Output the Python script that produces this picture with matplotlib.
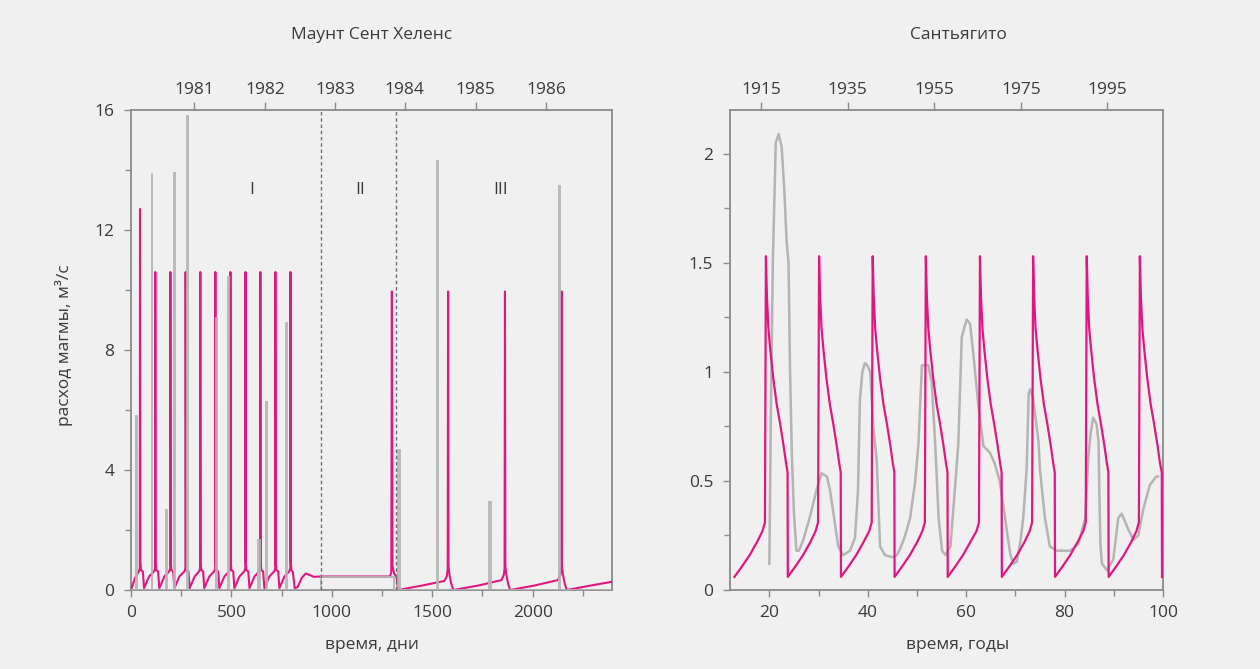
import matplotlib
matplotlib.use("Agg")
import matplotlib.pyplot as plt
from matplotlib.ticker import MultipleLocator

plt.rcParams["font.family"] = ["Open Sans", "DejaVu Sans"]

# ---------------- Mount St. Helens (days since start) ----------------
msh_model_t = [
    0, 20,
    39, 44, 45, 47, 50, 59, 65, 90,
    115, 120, 121, 123, 126, 135, 141, 166,
    190, 195, 196, 198, 201, 210, 216, 241,
    266, 271, 272, 274, 277, 286, 292, 317,
    339, 344, 345, 347, 350, 359, 365, 390,
    414, 419, 420, 422, 425, 434, 440, 465,
    489, 494, 495, 497, 500, 509, 515, 540,
    564, 569, 570, 572, 575, 584, 590, 615,
    638, 643, 644, 646, 649, 658, 664, 689,
    713, 718, 719, 721, 724, 733, 739, 764,
    788, 793, 794, 796, 799, 806, 815, 830, 850, 870, 890, 910, 945,
    1290, 1296, 1299, 1302, 1310, 1322, 1330,
    1450, 1560, 1572, 1577, 1579, 1581, 1586, 1595, 1605,
    1730, 1845, 1856, 1860, 1862, 1864, 1869, 1878, 1888,
    2010, 2125, 2138, 2142, 2144, 2146, 2151, 2160, 2170,
    2290, 2400,
]
msh_model_v = [
    0.0, 0.4,
    0.62, 0.72, 12.7, 0.9, 0.66, 0.62, 0.06, 0.45,
    0.62, 0.72, 10.6, 0.9, 0.66, 0.62, 0.06, 0.45,
    0.62, 0.72, 10.6, 0.9, 0.66, 0.62, 0.06, 0.45,
    0.62, 0.72, 10.6, 0.9, 0.66, 0.62, 0.06, 0.45,
    0.62, 0.72, 10.6, 0.9, 0.66, 0.62, 0.06, 0.45,
    0.62, 0.72, 10.6, 0.9, 0.66, 0.62, 0.06, 0.45,
    0.62, 0.72, 10.6, 0.9, 0.66, 0.62, 0.06, 0.45,
    0.62, 0.72, 10.6, 0.9, 0.66, 0.62, 0.06, 0.45,
    0.62, 0.72, 10.6, 0.9, 0.66, 0.62, 0.06, 0.45,
    0.62, 0.72, 10.6, 0.9, 0.66, 0.62, 0.06, 0.45,
    0.62, 0.72, 10.6, 0.9, 0.66, 0.6, 0.06, 0.1, 0.4, 0.55, 0.5, 0.44, 0.45,
    0.45, 0.6, 9.95, 0.8, 0.55, 0.45, 0.0,
    0.15, 0.3, 0.45, 0.7, 9.95, 0.8, 0.5, 0.2, 0.0,
    0.15, 0.33, 0.5, 0.7, 9.95, 0.8, 0.5, 0.2, 0.0,
    0.15, 0.33, 0.5, 0.7, 9.95, 0.8, 0.5, 0.2, 0.0,
    0.15, 0.28,
]

# observed extrusion episodes: start day, end day, rate
msh_obs_start = [26, 105, 175.5, 215, 281, 424.5, 484, 632, 674, 774,
                 945, 1331, 1525, 1784, 2133]
msh_obs_end = [30, 107, 180.5, 217, 283, 429.5, 486, 644, 678, 778,
               1312, 1339, 1527, 1794, 2135]
msh_obs_rate = [5.8, 13.9, 2.67, 13.9, 15.8, 9.07, 10.44, 1.67, 6.28, 8.9,
                0.44, 4.67, 14.3, 2.94, 13.47]

msh_year_pos = [315, 668, 1017, 1363, 1716, 2068]
msh_year_labels = ["1981", "1982", "1983", "1984", "1985", "1986"]
msh_phase_bounds = [945, 1320]
msh_phase_labels = ["I", "II", "III"]
msh_phase_pos = [603, 1141, 1839]

# ---------------- Santiaguito (years) ----------------
sg_model_t = [
    12.9, 14.5, 16.0, 17.5, 18.6, 19.1, 19.3, 19.5, 19.8, 20.2, 20.8, 21.5, 22.2, 22.9, 23.4, 23.7,
    23.75, 25.35, 26.85, 28.35, 29.4, 29.9, 30.1, 30.3, 30.6, 31.0, 31.6, 32.3, 33.0, 33.7, 34.2, 34.5,
    34.55, 36.15, 37.65, 39.15, 40.3, 40.8, 41.0, 41.2, 41.5, 41.9, 42.5, 43.2, 43.9, 44.6, 45.1, 45.4,
    45.45, 47.05, 48.55, 50.05, 51.1, 51.6, 51.8, 52.0, 52.3, 52.7, 53.3, 54.0, 54.7, 55.4, 55.9, 56.2,
    56.25, 57.85, 59.35, 60.85, 62.1, 62.6, 62.8, 63.0, 63.3, 63.7, 64.3, 65.0, 65.7, 66.4, 66.9, 67.2,
    67.25, 68.85, 70.35, 71.85, 72.9, 73.4, 73.6, 73.8, 74.1, 74.5, 75.1, 75.8, 76.5, 77.2, 77.7, 78.0,
    78.05, 79.65, 81.15, 82.65, 83.8, 84.3, 84.5, 84.7, 85.0, 85.4, 86.0, 86.7, 87.4, 88.1, 88.6, 88.9,
    88.95, 90.55, 92.05, 93.55, 94.6, 95.1, 95.3, 95.5, 95.8, 96.2, 96.8, 97.5, 98.2, 98.9, 99.4, 99.75,
    99.8,
]
sg_model_v = [
    0.06, 0.11, 0.16, 0.22, 0.27, 0.31, 1.53, 1.35, 1.2, 1.1, 0.97, 0.85, 0.76, 0.66, 0.58, 0.54,
    0.06, 0.11, 0.16, 0.22, 0.27, 0.31, 1.53, 1.35, 1.2, 1.1, 0.97, 0.85, 0.76, 0.66, 0.58, 0.54,
    0.06, 0.11, 0.16, 0.22, 0.27, 0.31, 1.53, 1.35, 1.2, 1.1, 0.97, 0.85, 0.76, 0.66, 0.58, 0.54,
    0.06, 0.11, 0.16, 0.22, 0.27, 0.31, 1.53, 1.35, 1.2, 1.1, 0.97, 0.85, 0.76, 0.66, 0.58, 0.54,
    0.06, 0.11, 0.16, 0.22, 0.27, 0.31, 1.53, 1.35, 1.2, 1.1, 0.97, 0.85, 0.76, 0.66, 0.58, 0.54,
    0.06, 0.11, 0.16, 0.22, 0.27, 0.31, 1.53, 1.35, 1.2, 1.1, 0.97, 0.85, 0.76, 0.66, 0.58, 0.54,
    0.06, 0.11, 0.16, 0.22, 0.27, 0.31, 1.53, 1.35, 1.2, 1.1, 0.97, 0.85, 0.76, 0.66, 0.58, 0.54,
    0.06, 0.11, 0.16, 0.22, 0.27, 0.31, 1.53, 1.35, 1.2, 1.1, 0.97, 0.85, 0.76, 0.66, 0.58, 0.54,
    0.06,
]

sg_obs_t = [20.0, 20.3, 20.7, 21.3, 21.9, 22.5, 23.0, 23.5, 23.9, 24.2, 24.6, 25.0, 25.5, 26.0,
            26.9, 28.3, 29.6, 30.6, 31.7, 32.3, 33.1, 34.0, 35.0, 36.4, 37.4, 38.0, 38.4, 38.9,
            39.4, 39.9, 40.5, 41.1, 41.8, 42.5, 43.5, 45.0, 45.9, 46.6, 47.6, 48.6, 49.6, 50.3,
            51.0, 52.3, 53.0, 53.7, 54.4, 55.1, 55.8, 56.8, 57.8, 58.4, 59.1, 60.1, 60.8, 61.5,
            62.5, 63.5, 64.8, 65.8, 66.8, 67.6, 68.4, 69.0, 69.6, 70.3, 71.0, 71.6, 72.3, 72.7,
            73.0, 73.6, 74.7, 75.0, 76.0, 77.0, 78.4, 81.1, 82.8, 84.2, 84.8, 85.3, 85.8, 86.5,
            86.9, 87.1, 87.3, 87.6, 88.6, 89.9, 90.9, 91.6, 92.9, 94.0, 95.0, 96.0, 97.3, 98.6,
            99.0]
sg_obs_v = [0.12, 0.8, 1.5, 2.05, 2.09, 2.03, 1.85, 1.6, 1.5, 1.0, 0.6, 0.35, 0.18, 0.18,
            0.23, 0.34, 0.46, 0.535, 0.52, 0.46, 0.34, 0.2, 0.16, 0.18, 0.24, 0.45, 0.87, 1.0,
            1.04, 1.03, 1.0, 0.75, 0.6, 0.2, 0.16, 0.15, 0.16, 0.19, 0.25, 0.33, 0.49, 0.67,
            1.03, 1.03, 0.95, 0.67, 0.33, 0.18, 0.16, 0.2, 0.49, 0.67, 1.16, 1.24, 1.22, 1.07,
            0.84, 0.66, 0.63, 0.58, 0.5, 0.38, 0.25, 0.16, 0.12, 0.13, 0.22, 0.33, 0.56, 0.9,
            0.92, 0.88, 0.68, 0.55, 0.33, 0.2, 0.18, 0.18, 0.21, 0.33, 0.6, 0.72, 0.79, 0.76,
            0.68, 0.4, 0.2, 0.12, 0.09, 0.14, 0.33, 0.35, 0.28, 0.23, 0.25, 0.37, 0.48, 0.52,
            0.52]

sg_year_pos = [18.3, 35.9, 53.5, 71.1, 88.7]
sg_year_labels = ["1915", "1935", "1955", "1975", "1995"]

# ---------------- styling ----------------
BG = "#f0f0f0"
SPINE = "#8a8a8a"
TEXT = "#3a3a3a"
PINK = "#e0177f"
GREY = "#b4b4b4"
FS = 12.5

fig = plt.figure(figsize=(12.6, 6.69), dpi=100, facecolor=BG)
axL = fig.add_axes([131 / 1260, 79 / 669, 481 / 1260, 480 / 669])
axR = fig.add_axes([730 / 1260, 79 / 669, 433 / 1260, 480 / 669])


def style(ax, ypad):
    ax.set_facecolor(BG)
    for sp in ax.spines.values():
        sp.set_color(SPINE)
        sp.set_linewidth(1.3)
    ax.tick_params(which="both", direction="out", color=SPINE, labelcolor=TEXT,
                   labelsize=FS, right=False, top=False)
    ax.tick_params(which="major", length=5, width=1)
    ax.tick_params(which="minor", length=4, width=1)
    ax.tick_params(axis="y", pad=ypad)
    ax.tick_params(axis="x", pad=6)


def top_years(ax, pos, labels):
    top = ax.twiny()
    top.set_xlim(ax.get_xlim())
    for sp in top.spines.values():
        sp.set_visible(False)
    top.set_xticks(pos)
    top.set_xticklabels(labels)
    top.tick_params(axis="x", direction="out", length=6, width=1, color=SPINE,
                    labelcolor=TEXT, labelsize=FS, pad=3)
    return top


# ---- left panel ----
axL.plot(msh_model_t, msh_model_v, color=PINK, lw=1.5, zorder=3)

obs_t, obs_v = [0], [0]
for s, e, r in zip(msh_obs_start, msh_obs_end, msh_obs_rate):
    obs_t += [s, s, e, e]
    obs_v += [0, r, r, 0]
obs_t.append(2400)
obs_v.append(0)
axL.plot(obs_t, obs_v, color=GREY, lw=1.4, alpha=0.9, zorder=4, solid_joinstyle="miter")

for b in msh_phase_bounds:
    axL.axvline(b, color="#6e6e6e", lw=1.0, ls=(0, (2.5, 2)), zorder=5)
for x, lab in zip(msh_phase_pos, msh_phase_labels):
    axL.text(x, 13.33, lab, ha="center", va="center", fontsize=FS, color=TEXT)

axL.set_xlim(0, 2395)
axL.set_ylim(0, 16)
axL.xaxis.set_major_locator(MultipleLocator(500))
axL.xaxis.set_minor_locator(MultipleLocator(250))
axL.yaxis.set_major_locator(MultipleLocator(4))
axL.yaxis.set_minor_locator(MultipleLocator(2))
style(axL, 7)
top_years(axL, msh_year_pos, msh_year_labels)

# ---- right panel ----
axR.plot(sg_obs_t, sg_obs_v, color=GREY, lw=1.8, zorder=3)
axR.plot(sg_model_t, sg_model_v, color=PINK, lw=1.6, zorder=4)
axR.set_xlim(12, 100)
axR.set_ylim(0, 2.2)
axR.xaxis.set_major_locator(MultipleLocator(20))
axR.xaxis.set_minor_locator(MultipleLocator(10))
axR.yaxis.set_major_locator(MultipleLocator(0.5))
axR.yaxis.set_minor_locator(MultipleLocator(0.25))
axR.set_yticks([0, 0.5, 1, 1.5, 2])
axR.set_yticklabels(["0", "0.5", "1", "1.5", "2"])
style(axR, 7)
top_years(axR, sg_year_pos, sg_year_labels)

# ---- titles and axis labels ----
fig.text(372 / 1260, 1 - 35 / 669, "Маунт Сент Хеленс", ha="center", va="center",
         fontsize=FS, color=TEXT)
fig.text(958 / 1260, 1 - 35 / 669, "Сантьягито", ha="center", va="center",
         fontsize=FS, color=TEXT)
fig.text(372 / 1260, 1 - 645 / 669, "время, дни", ha="center", va="center",
         fontsize=FS, color=TEXT)
fig.text(958 / 1260, 1 - 645 / 669, "время, годы", ha="center", va="center",
         fontsize=FS, color=TEXT)
fig.text(64 / 1260, 1 - 345 / 669, "расход магмы, м³/с", ha="center", va="center",
         rotation=90, fontsize=FS, color=TEXT)

fig.savefig("out.png", dpi=100, facecolor=BG)
